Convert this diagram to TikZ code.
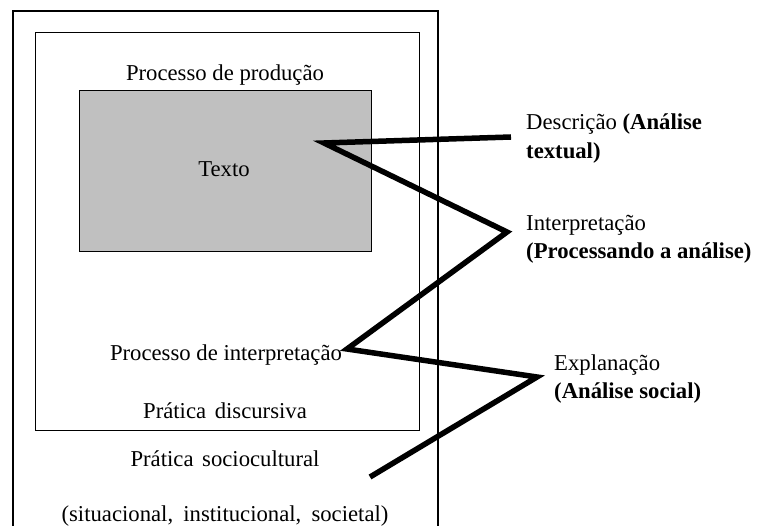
\documentclass[tikz,border=0pt]{standalone}
\usepackage{fontspec}
\setmainfont{Liberation Serif}
\definecolor{boxgray}{HTML}{C0C0C0}
\begin{document}
\begin{tikzpicture}[x=1pt,y=-1pt,
  framebox/.style={draw, line width=1.3pt, inner sep=0pt, anchor=north west},
  lbl/.style={inner sep=0pt, font=\fontsize{22.7}{28.5}\selectfont},
  sidelbl/.style={lbl, anchor=west, align=left},
  zig/.style={line width=5.5pt, line join=miter}]
\useasboundingbox (0,0) rectangle (757,526);
% outer frame (open at the bottom, cut by the page)
\coordinate (obl) at (13,530);
\coordinate (obr) at (438,530);
\coordinate (otr) at (438,11);
\draw[line width=1.3pt] (obl) |- (otr) -- (obr);
% inner frame and text box
\node[framebox, minimum width=384pt, minimum height=398pt] (inner) at (35,32) {};
\node[framebox, fill=boxgray, minimum width=292pt, minimum height=161pt] (textbox) at (79,90) {};
% texts inside
\node[lbl] (prod) at (225,75) {Processo de produção};
\node[lbl] (texto) at (224,169) {Texto};
\node[lbl] (interp) at (226,355) {Processo de interpretação};
\node[lbl] (disc) at (225,411) {Prática\hspace{0.38em}discursiva};
\node[lbl] (socio) at (225,459) {Prática\hspace{0.38em}sociocultural};
\node[lbl] (sit) at (225,516) {(situacional,\hspace{0.45em}institucional,\hspace{0.45em}societal)};
% side labels
\node[sidelbl] (desc) at (526,138.5) {Descrição \textbf{(Análise}\\\textbf{textual)}};
\node[sidelbl] (interpr) at (526,239.5) {Interpretação\\\textbf{(Processando a análise)}};
\node[sidelbl] (expl) at (554,379) {Explanação\\\textbf{(Análise social)}};
% zigzag connector
\coordinate (z1) at (511,137);
\coordinate (z0) at (324,143);
\coordinate (z2) at (507,232);
\coordinate (z3) at (347,349);
\coordinate (z4) at (537,377);
\coordinate (z5) at (370,477);
\draw[zig] (z1) -- (z0) -- (z2) -- (z3) -- (z4) -- (z5);
\end{tikzpicture}
\end{document}
